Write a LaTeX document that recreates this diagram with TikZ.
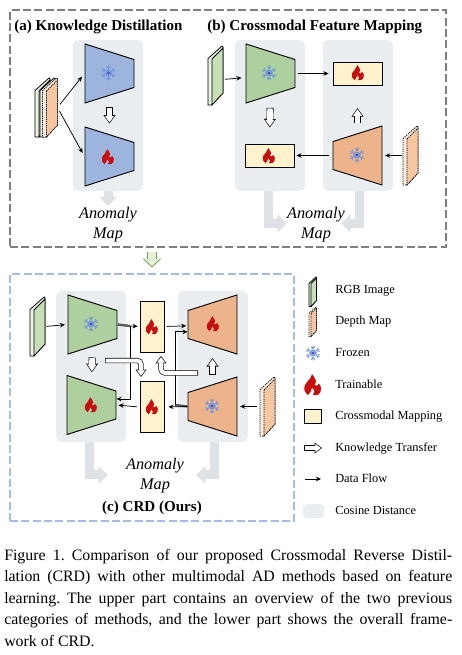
\documentclass[tikz,border=0pt]{standalone}
\usepackage{fontspec}
\setmainfont{Liberation Serif}
\usetikzlibrary{shapes.geometric,arrows.meta}
\definecolor{panelgray}{HTML}{EBEEF0}
\definecolor{bargray}{HTML}{DEE2E7}
\definecolor{encblue}{HTML}{9DB4DC}
\definecolor{encgreen}{HTML}{AED09E}
\definecolor{encorange}{HTML}{EDB48C}
\definecolor{slabgreen}{HTML}{C6DFB5}
\definecolor{slaborange}{HTML}{F6C6A0}
\definecolor{mapyellow}{HTML}{FFF2CC}
\definecolor{flamered}{HTML}{C80F0F}
\definecolor{snowblue}{HTML}{6F95DC}
\definecolor{boxgray}{HTML}{7F7F7F}
\definecolor{boxblue}{HTML}{A3BCEA}
\definecolor{nextgreen}{HTML}{6F9E55}
\definecolor{nextfill}{HTML}{E4F0DA}
\tikzset{
  encoder/.style={trapezium, trapezium stretches=true, trapezium left angle=61, trapezium right angle=61, minimum width=44.25pt, minimum height=36.75pt, inner sep=1pt, draw, line width=.7pt, rotate=-90, fill=#1},
  decoder/.style={encoder=#1, rotate=180},
  panel/.style={fill=panelgray, rounded corners=4pt, minimum width=52.5pt, minimum height=113.25pt, inner sep=0pt},
  mapbox/.style={draw, line width=.7pt, fill=mapyellow, inner sep=0pt},
  flow/.style={-{Stealth[length=3.8pt,width=3.4pt]}, line width=.55pt},
  kt/.style 2 args={line width=5.2pt, shorten <=#1, shorten >=#2, -{Triangle[length=6.4pt,width=8.6pt]},
    postaction={draw=white, line width=4.2pt, shorten <=#1+.5pt, shorten >=#2+.85pt, -{Triangle[length=4.9pt,width=6.6pt]}}},
  ktbent/.style={line width=4pt, rounded corners=3pt, -{Triangle[length=5.6pt,width=8pt]},
    postaction={draw=white, line width=3pt, shorten <=.5pt, shorten >=.85pt, -{Triangle[length=4.2pt,width=6pt]}}},
  grayflow/.style={draw=bargray, line width=6.75pt, -{Triangle[length=7pt,width=13pt]}},
  stub/.style={draw=black!65, line width=1.8pt},
  title/.style={font=\fontsize{11.3}{13.5}\selectfont\bfseries, inner sep=0pt},
  mapt/.style={font=\fontsize{12.2}{15}\selectfont\itshape, align=center, inner sep=0pt},
  legt/.style={font=\fontsize{9.3}{11}\selectfont, anchor=west, inner sep=0pt, text height=6.5pt, text depth=2pt},
  pics/flame/.style={code={
    \fill[flamered] (-1,-11) .. controls (0,-8) and (3,-7) .. (3,-4) .. controls (3,-2) and (2,-1) .. (1.5,0)
      .. controls (3,1) and (5,1) .. (6,-1.5) .. controls (8,1) and (9,4) .. (7.5,7)
      .. controls (6,10) and (3,11) .. (0,10) .. controls (2,8) and (2,5) .. (-1,3)
      .. controls (-2,6) and (-3,9) .. (-5,10) .. controls (-8,8) and (-10,4) .. (-8,0)
      .. controls (-6,-4) and (-2,-6) .. (-1,-11) -- cycle;
  }},
  pics/snow/.style={code={
    \foreach \ang in {0,60,...,300} {
      \draw[snowblue, line width=.55pt, rotate=\ang] (0,0) -- (0,-7.5) (-2,-6.5) -- (0,-4.5) -- (2,-6.5) (-2,-3) -- (0,-2) -- (2,-3);
    }
    \fill[blue!70!black!70] (0,0) circle (1.6);
  }},
  pics/slab/.style n args={2}{code={
    \draw[fill=#1!35, line width=.55pt, #2] (0,12.5) -- (14,0) -- (15,1) -- (15,47) -- (4,59) -- (0,59) -- cycle;
    \draw[fill=#1, line width=.55pt, #2] (4,13) -- (15,2) -- (15,47) -- (4,59) -- cycle;
    \coordinate (-e) at (15,29.5);
    \coordinate (-w) at (0,29.5);
  }},
  dep/.style={dash pattern=on .9pt off .7pt},
}
\begin{document}
\frenchspacing
\begin{tikzpicture}[x=.75pt, y=-.75pt]
\useasboundingbox (0,0) rectangle (461,655);
\node[draw=boxgray, dash pattern=on 6pt off 2.5pt, line width=.8pt, minimum width=327pt, minimum height=177.75pt, inner sep=0pt] (boxup) at (228,128.5) {};
\node[draw=boxblue, dash pattern=on 6pt off 2.5pt, line width=.8pt, minimum width=213pt, minimum height=185.25pt, inner sep=0pt] (boxlow) at (152,397.5) {};
\draw[draw=nextgreen, line width=7pt, shorten <=3pt, shorten >=4.5pt, -{Triangle[length=6.5pt,width=13.5pt]},
  postaction={draw=nextfill, line width=5.8pt, shorten <=3.6pt, shorten >=5.5pt, -{Triangle[length=5.2pt,width=11pt]}}] (boxup.south -| boxlow.north) -- (boxlow.north);

% (a)
\node[title, anchor=west] (titlea) at (14,27) {(a) Knowledge Distillation};
\node[panel] (pa) at (108,115.5) {};
\node[encoder=encblue] (enca) at (109.5,73.5) {};
\node[encoder=encblue] (deca) at (109.5,156.5) {};
\pic at (108.5,73) {snow};
\pic[scale=.72] at (108,157) {flame};
\pic (rgba) at (35,78) {slab={slabgreen}{solid}};
\pic (rgbc) at (40,78) {slab={slabgreen}{solid}};
\pic (depa) at (42.5,78) {slab={slaborange}{dep}};
\node[mapt] (mapa) at (108,225) {Anomaly\\Map};
\draw[flow, shorten >=3pt, shorten <=3pt] (depa-e) -- (enca.south);
\draw[flow, shorten >=3pt, shorten <=3pt] (depa-e) -- (deca.south);
\draw[kt={8.5pt}{8pt}] (enca) -- (deca);
\draw[grayflow] (pa.south) -- ([yshift=1pt]mapa.north);

% (b)
\node[title, anchor=west] (titleb) at (207,27) {(b) Crossmodal Feature Mapping};
\node[panel] (pb) at (270,115.5) {};
\node[panel] (pc) at (358,115.5) {};
\node[encoder=encgreen] (encb) at (270.5,73.5) {};
\node[decoder=encorange] (encd) at (357.5,155.5) {};
\node[mapbox, minimum width=36.75pt, minimum height=17.25pt] (mapd) at (357.5,73.5) {};
\node[mapbox, minimum width=36.75pt, minimum height=17.25pt] (mapr) at (269.5,155.5) {};
\pic at (269,73) {snow};
\pic at (357,155) {snow};
\pic[scale=.72] at (358,73) {flame};
\pic[scale=.72] at (269,156) {flame};
\pic (rgbb) at (208,46) {slab={slabgreen}{solid}};
\pic (depb) at (403,126) {slab={slaborange}{dep}};
\node[mapt] (mapb) at (316,225) {Anomaly\\Map};
\draw[flow, shorten >=3pt, shorten <=1.5pt] ([yshift=-3pt]rgbb-e) -- ([yshift=-3pt]encb.south);
\draw[flow, shorten <=2pt, shorten >=3pt] (encb.north) -- (mapd.west);
\draw[flow, shorten <=1pt, shorten >=2pt] (depb-w) -- (encd.south);
\draw[flow, shorten <=3pt, shorten >=1.5pt] (encd.north) -- (mapr.east);
\draw[kt={9pt}{12pt}] (encb) -- (mapr);
\draw[kt={7.5pt}{17pt}] (encd) -- (mapd);
\draw[grayflow] ([xshift=-1.5pt]pb.south) |- ([yshift=1.2pt]mapb.west);
\draw[grayflow, shorten >=-3pt] ([xshift=.75pt]pc.south) |- ([yshift=1.2pt]mapb.east);

% (c)
\node[title] (titlec) at (152,507.5) {(c) CRD (Ours)};
\node[panel] (pd) at (91,366.5) {};
\node[panel] (pe) at (213,366.5) {};
\node[encoder=encgreen] (encc) at (92.5,324.5) {};
\node[encoder=encgreen] (decc) at (91.5,405) {};
\node[decoder=encorange] (decr) at (212.5,324.5) {};
\node[decoder=encorange] (encr) at (212.5,406.5) {};
\node[mapbox, minimum width=18pt, minimum height=38.25pt] (mapu) at (152,326.5) {};
\node[mapbox, minimum width=18pt, minimum height=38.25pt] (mapl) at (152,407) {};
\pic at (91,324) {snow};
\pic at (212,406) {snow};
\pic[scale=.72] at (91,405) {flame};
\pic[scale=.72] at (213,324) {flame};
\pic[scale=.72] at (152,327) {flame};
\pic[scale=.72] at (152,407) {flame};
\pic (rgbd) at (30,297) {slab={slabgreen}{solid}};
\pic (depc) at (260,377) {slab={slaborange}{dep}};
\node[mapt] (mapc) at (155,476) {Anomaly\\Map};
\coordinate (jl) at (130,326);
\coordinate (jr) at (175,405);
\coordinate (kl) at (105,360.5);
\coordinate (kle) at (141,377);
\coordinate (krs) at (198,373);
\coordinate (kre) at (161,356);
\draw[flow, shorten <=1pt, shorten >=2pt] (rgbd-e) -- (encc.south);
\draw[stub] (encc.north) -- (jl);
\draw[flow, shorten >=1.5pt] (jl) -- (mapu.west);
\draw[flow] (jl) |- ([yshift=4.5pt]decc.north);
\draw[flow, shorten <=2pt, shorten >=1.5pt] (mapl.west) -- (decc.north);
\draw[flow, shorten <=2pt, shorten >=1pt] (mapu.east) -- ([yshift=-1pt]decr.north);
\draw[flow, shorten <=2pt, shorten >=2pt] (depc-w) -- (encr.south);
\draw[stub] (encr.north) -- (jr);
\draw[flow, shorten >=3pt] (encr.north) -- (mapl.east);
\draw[flow] (jr) |- ([yshift=-5.5pt]decr.north);
\draw[kt={8pt}{8pt}] (encc) -- (decc);
\draw[kt={7pt}{8.5pt}] (encr) -- (decr);
\draw[ktbent] (kl) -| (kle);
\draw[ktbent] (krs) -| (kre);
\draw[grayflow, shorten >=13.5pt] ([xshift=-1pt]pd.south) |- ([yshift=.8pt]mapc.west);
\draw[grayflow, shorten >=9pt] ([xshift=.75pt]pe.south) |- ([yshift=.8pt]mapc.east);

% legend
\pic[scale=.5] (legrgb) at (309,277) {slab={slabgreen}{solid}};
\pic[scale=.5] (legdep) at (309,307) {slab={slaborange}{dep}};
\pic at (313,353) {snow};
\pic at (313,385) {flame};
\node[mapbox, minimum width=13pt, minimum height=10.5pt] (legmap) at (313,416) {};
\coordinate (legka) at (304,448);
\coordinate (legkb) at (322,448);
\draw[ktbent] (legka) -- (legkb);
\coordinate (legfa) at (305,479);
\coordinate (legfb) at (321,479);
\draw[flow] (legfa) -- (legfb);
\node[fill=panelgray, rounded corners=3pt, minimum width=16pt, minimum height=10.5pt, inner sep=0pt] (legcos) at (313.5,511) {};
\node[legt] (t1) at (335,290) {RGB Image};
\node[legt] (t2) at (335,322) {Depth Map};
\node[legt] (t3) at (335,353) {Frozen};
\node[legt] (t4) at (335,385) {Trainable};
\node[legt] (t5) at (335,416.5) {Crossmodal Mapping};
\node[legt] (t6) at (335,448) {Knowledge Transfer};
\node[legt] (t7) at (335,479) {Data Flow};
\node[legt] (t8) at (335,511) {Cosine Distance};

\node[anchor=north west, inner sep=0pt, text width=336pt, align=justify, font=\fontsize{11.9}{16.1}\selectfont] (caption) at (4,549) {Figure 1. Comparison of our proposed Crossmodal Reverse Distil-\linebreak lation (CRD) with other multimodal AD methods based on feature\linebreak learning. The upper part contains an overview of the two previous\linebreak categories of methods, and the lower part shows the overall frame-\linebreak work of CRD.};
\end{tikzpicture}
\end{document}
